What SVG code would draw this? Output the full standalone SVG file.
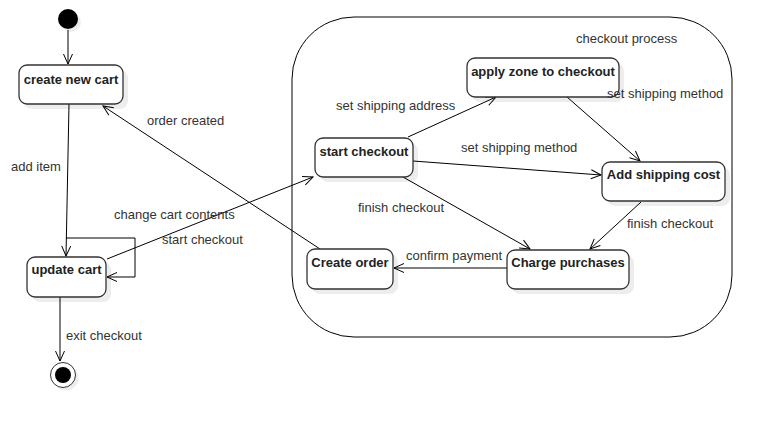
<svg xmlns="http://www.w3.org/2000/svg" width="771" height="427" viewBox="0 0 771 427">
<style>
.box{fill:#fff;stroke:#333;stroke-width:1.3}
.sh{fill:#000;fill-opacity:0.07}
.nt{font-family:"Liberation Sans",Arial,sans-serif;font-size:13px;font-weight:bold;fill:#222;text-anchor:middle}
.lb{font-family:"Liberation Sans",Arial,sans-serif;font-size:13px;fill:#333}
.ln{fill:none;stroke:#000;stroke-width:1;marker-end:url(#arr)}
</style>
<defs>
<marker id="arr" markerUnits="userSpaceOnUse" markerWidth="12" markerHeight="12" refX="10" refY="5" orient="auto" overflow="visible">
<path d="M0,0.5 L10,5 L0,9.5" fill="none" stroke="#000" stroke-width="1"/>
</marker>
</defs>
<rect width="771" height="427" fill="#fff"/>
<g id="container">
<rect x="292" y="17" width="440" height="320" rx="62" ry="62" fill="none" stroke="#000" stroke-width="1"/>
<text class="lb" x="576" y="43">checkout process</text>
</g>
<g id="connectors">
<line class="ln" x1="68" y1="30" x2="68" y2="64"/>
<line class="ln" x1="69" y1="104" x2="66" y2="256"/>
<path class="ln" d="M66,238 H135 V277 H107"/>
<line class="ln" x1="107" y1="259" x2="313" y2="177"/>
<line class="ln" x1="60" y1="297" x2="60" y2="361"/>
<line class="ln" x1="320" y1="249" x2="103" y2="106"/>
<line class="ln" x1="408" y1="137" x2="496" y2="97"/>
<line class="ln" x1="567" y1="97" x2="640" y2="161"/>
<line class="ln" x1="413" y1="161" x2="601" y2="175"/>
<line class="ln" x1="403" y1="177" x2="530" y2="249"/>
<line class="ln" x1="641" y1="202" x2="590" y2="249"/>
<line class="ln" x1="507" y1="268" x2="394" y2="268"/>
</g>
<g id="initial">
<circle cx="71" cy="22" r="10" class="sh"/>
<circle cx="68" cy="19" r="10" fill="#000"/>
</g>
<g id="final">
<circle cx="66" cy="378" r="12.5" class="sh"/>
<circle cx="63" cy="375" r="12.5" fill="#fff" stroke="#333" stroke-width="1"/>
<circle cx="63" cy="375" r="8" fill="#000"/>
</g>
<g id="create-new-cart">
<rect class="sh" x="24" y="70" width="104" height="39" rx="8"/>
<rect class="box" x="19" y="65" width="104" height="39" rx="8"/>
<text class="nt" x="71" y="84">create new cart</text>
</g>
<g id="update-cart">
<rect class="sh" x="32" y="262" width="79" height="40" rx="8"/>
<rect class="box" x="27" y="257" width="79" height="40" rx="8"/>
<text class="nt" x="66.5" y="274">update cart</text>
</g>
<g id="start-checkout">
<rect class="sh" x="320" y="143" width="98" height="39" rx="8"/>
<rect class="box" x="315" y="138" width="98" height="39" rx="8"/>
<text class="nt" x="364" y="156">start checkout</text>
</g>
<g id="apply-zone">
<rect class="sh" x="472" y="63" width="152" height="39" rx="8"/>
<rect class="box" x="467" y="58" width="152" height="39" rx="8"/>
<text class="nt" x="543" y="76">apply zone to checkout</text>
</g>
<g id="add-shipping-cost">
<rect class="sh" x="607" y="167" width="123" height="39" rx="8"/>
<rect class="box" x="602" y="162" width="123" height="39" rx="8"/>
<text class="nt" x="663.5" y="179">Add shipping cost</text>
</g>
<g id="charge-purchases">
<rect class="sh" x="512" y="255" width="122" height="39" rx="8"/>
<rect class="box" x="507" y="250" width="122" height="39" rx="8"/>
<text class="nt" x="568" y="267">Charge purchases</text>
</g>
<g id="create-order">
<rect class="sh" x="312" y="254" width="86" height="40" rx="8"/>
<rect class="box" x="307" y="249" width="86" height="40" rx="8"/>
<text class="nt" x="350" y="267">Create order</text>
</g>
<g id="connector-labels">
<text class="lb" x="11" y="171">add item</text>
<text class="lb" x="147" y="125">order created</text>
<text class="lb" x="114" y="219">change cart contents</text>
<text class="lb" x="162" y="244">start checkout</text>
<text class="lb" x="66" y="340">exit checkout</text>
<text class="lb" x="336" y="110">set shipping address</text>
<text class="lb" x="607" y="98">set shipping method</text>
<text class="lb" x="461" y="152">set shipping method</text>
<text class="lb" x="358" y="212">finish checkout</text>
<text class="lb" x="627" y="228">finish checkout</text>
<text class="lb" x="406" y="260">confirm payment</text>
</g>
</svg>
